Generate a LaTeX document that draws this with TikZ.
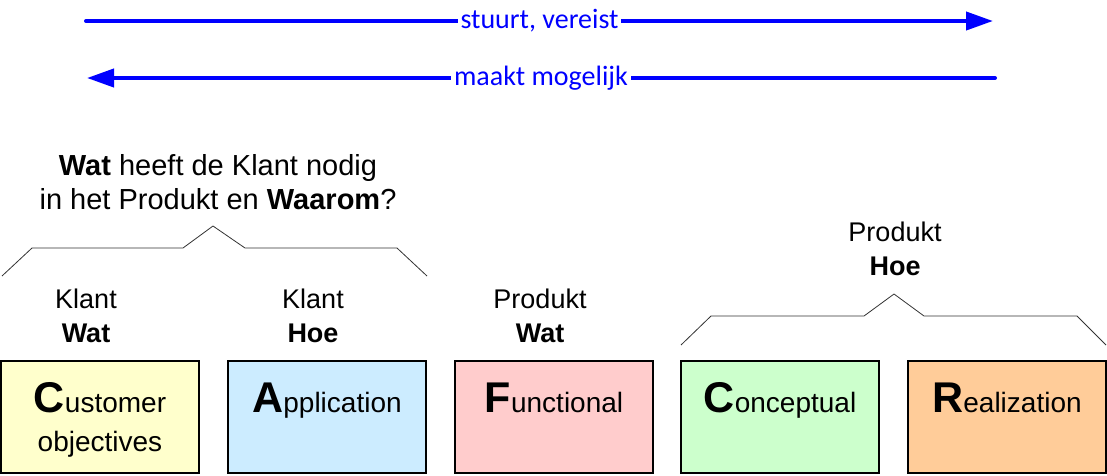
\documentclass[tikz,border=0pt]{standalone}
\usepackage{fontspec}
\setmainfont{Liberation Sans}
\newfontfamily\flowfont{Carlito}
\usetikzlibrary{arrows.meta}

\definecolor{flowblue}{RGB}{0,0,255}
\definecolor{custfill}{RGB}{255,255,204}
\definecolor{applfill}{RGB}{204,236,255}
\definecolor{funcfill}{RGB}{255,204,204}
\definecolor{concfill}{RGB}{204,255,204}
\definecolor{realfill}{RGB}{255,204,153}

\newcommand{\firstletter}[1]{{\fontsize{43}{43}\selectfont\bfseries #1}}

\tikzset{
    flow/.style={flowblue, line width=4pt, line cap=round,
        -{Triangle[length=27pt, width=18pt]}},
    flowlbl/.style={fill=white, text=flowblue, inner xsep=3pt, inner ysep=1pt,
        font=\flowfont\fontsize{28}{30}\selectfont},
    viewbox/.style={draw=black, line width=1.3pt, minimum width=198pt,
        minimum height=112pt, inner sep=0pt},
    boxtext/.style={anchor=north, inner sep=0pt, align=center,
        font=\fontsize{28}{39}\selectfont},
    lbl/.style={align=center, inner sep=0pt, font=\fontsize{27}{34}\selectfont},
    brace/.style={draw=black!80, line width=0.8pt}
}

\begin{document}
\begin{tikzpicture}[x=1pt, y=-1pt]
    \useasboundingbox (0,0) rectangle (1107,475);

    % blauwe pijlen
    \coordinate (s1) at (86,21);
    \coordinate (s2) at (993,21);
    \coordinate (m1) at (995,78);
    \coordinate (m2) at (87,78);
    \draw[flow] (s1) -- (s2) node[midway, flowlbl] (stuurt) {stuurt, vereist};
    \draw[flow] (m1) -- (m2) node[midway, flowlbl] (maakt) {maakt mogelijk};

    % vraag en accolades
    \node[lbl, font=\fontsize{29}{34}\selectfont] (vraag) at (218,182)
        {\textbf{Wat} heeft de Klant nodig\\in het Produkt en \textbf{Waarom}?};
    \draw[brace] (2,276) -- (32,248) -- (183,248) -- (213,226)
        -- (245,248) -- (397,248) -- (427,276);
    \draw[brace] (681,345) -- (711,316) -- (864,316) -- (894,294)
        -- (924,316) -- (1077,316) -- (1106,345);

    % labels boven de blokken
    \node[lbl] (klantwat) at (86,316) {Klant\\\textbf{Wat}};
    \node[lbl] (klanthoe) at (313,316) {Klant\\\textbf{Hoe}};
    \node[lbl] (prodwat) at (540,316) {Produkt\\\textbf{Wat}};
    \node[lbl] (prodhoe) at (895,249) {Produkt\\\textbf{Hoe}};

    % blokken
    \node[viewbox, fill=custfill] (cust) at (100,417) {};
    \node[viewbox, fill=applfill] (appl) at (327,417) {};
    \node[viewbox, fill=funcfill] (func) at (554,417) {};
    \node[viewbox, fill=concfill] (conc) at (780,417) {};
    \node[viewbox, fill=realfill] (real) at (1007,417) {};

    \node[boxtext] (custt) at ([yshift=-22pt]cust.north) {\firstletter{C}ustomer\\objectives};
    \node[boxtext] (applt) at ([yshift=-22pt]appl.north) {\firstletter{A}pplication};
    \node[boxtext] (funct) at ([yshift=-22pt]func.north) {\firstletter{F}unctional};
    \node[boxtext] (conct) at ([yshift=-22pt]conc.north) {\firstletter{C}onceptual};
    \node[boxtext] (realt) at ([yshift=-22pt]real.north) {\firstletter{R}ealization};
\end{tikzpicture}
\end{document}
